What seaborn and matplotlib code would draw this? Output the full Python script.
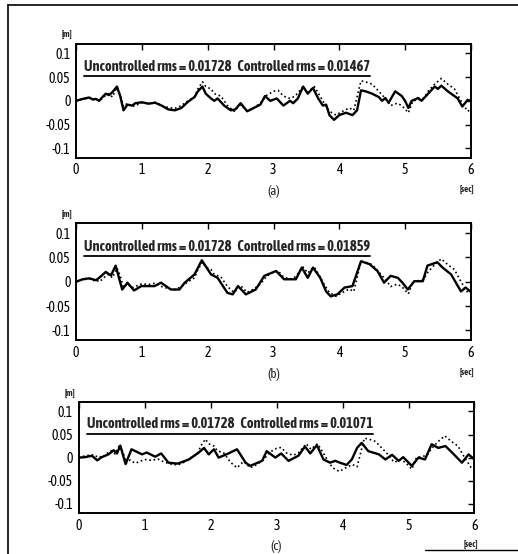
import numpy as np
import pandas as pd
import matplotlib.pyplot as plt
from matplotlib import font_manager
from matplotlib.lines import Line2D
import seaborn as sns

# uncontrolled response (dotted) - same record in all three panels
t_unc = [0, 0.1, 0.2, 0.25, 0.3, 0.35, 0.4, 0.45, 0.5, 0.55, 0.62, 0.67, 0.72, 0.78,
         0.85, 0.9, 1.0, 1.1, 1.2, 1.3, 1.4, 1.5, 1.6, 1.7, 1.8, 1.85, 1.92, 1.97,
         2.05, 2.1, 2.2, 2.3, 2.4, 2.5, 2.6, 2.7, 2.8, 2.9, 3.0, 3.07, 3.15, 3.25,
         3.33, 3.45, 3.52, 3.62, 3.7, 3.78, 3.85, 3.95, 4.05, 4.15, 4.22, 4.33,
         4.4, 4.5, 4.6, 4.7, 4.78, 4.88, 4.95, 5.05, 5.12, 5.2, 5.28, 5.35, 5.45,
         5.55, 5.65, 5.75, 5.85, 5.95, 6.0]
y_unc = [0.0, 0.004, 0.006, 0.002, 0.004, 0.0, 0.005, 0.012, 0.015, 0.008, 0.028,
         0.012, -0.012, -0.005, -0.012, -0.01, -0.004, -0.006, -0.003, -0.01,
         -0.014, -0.016, -0.01, 0.0, 0.008, 0.025, 0.04, 0.03, 0.025, 0.015, 0.01,
         -0.01, -0.022, -0.008, -0.022, -0.015, -0.005, 0.012, 0.02, 0.022, 0.01,
         0.005, 0.01, 0.03, 0.018, 0.03, 0.012, -0.008, -0.022, -0.03, -0.022,
         -0.015, -0.02, 0.042, 0.04, 0.035, 0.02, 0.005, -0.01, -0.005, -0.01,
         -0.025, 0.0, 0.002, 0.005, 0.02, 0.035, 0.047, 0.035, 0.025, 0.0, -0.022,
         -0.018]

# controlled response (solid), panel (a)
t_a = [0, 0.1, 0.2, 0.25, 0.3, 0.35, 0.4, 0.45, 0.5, 0.55, 0.62, 0.67, 0.72, 0.78,
       0.85, 0.9, 1.0, 1.1, 1.2, 1.3, 1.4, 1.5, 1.6, 1.7, 1.8, 1.85, 1.92, 1.97,
       2.05, 2.1, 2.15, 2.25, 2.35, 2.42, 2.5, 2.6, 2.7, 2.8, 2.87, 2.95, 3.05,
       3.15, 3.25, 3.3, 3.37, 3.45, 3.52, 3.6, 3.68, 3.75, 3.8, 3.85, 3.92, 4.0,
       4.1, 4.2, 4.27, 4.33, 4.4, 4.5, 4.6, 4.65, 4.7, 4.75, 4.85, 4.95, 5.0,
       5.05, 5.1, 5.2, 5.25, 5.35, 5.45, 5.5, 5.55, 5.65, 5.7, 5.8, 5.87, 5.95, 6.0]
y_a = [0.0, 0.004, 0.007, 0.003, 0.004, 0.0, 0.008, 0.015, 0.012, 0.018, 0.03, 0.01,
       -0.02, -0.008, -0.01, -0.005, -0.003, -0.006, -0.004, -0.01, -0.018, -0.02,
       -0.015, -0.002, 0.008, 0.02, 0.03, 0.015, 0.005, 0.0, 0.005, -0.01, -0.02,
       -0.018, -0.005, -0.022, -0.015, -0.008, 0.01, 0.0, 0.005, -0.01, 0.0,
       -0.005, 0.005, 0.03, 0.015, 0.027, 0.005, -0.01, -0.008, -0.03, -0.04,
       -0.03, -0.025, -0.03, -0.02, 0.022, 0.02, 0.015, 0.008, 0.0, 0.006,
       -0.004, 0.02, 0.01, 0.0, -0.015, 0.0, 0.006, 0.0, 0.015, 0.03, 0.025,
       0.032, 0.02, 0.015, 0.005, -0.012, 0.002, 0.0]

# controlled response (solid), panel (b)
t_b = [0, 0.1, 0.2, 0.3, 0.35, 0.45, 0.53, 0.6, 0.7, 0.78, 0.88, 0.99, 1.19, 1.29,
       1.44, 1.57, 1.65, 1.8, 1.91, 2.05, 2.15, 2.3, 2.38, 2.46, 2.58, 2.73, 2.86,
       3.04, 3.16, 3.34, 3.43, 3.52, 3.6, 3.71, 3.8, 3.87, 3.97, 4.08, 4.2, 4.33,
       4.46, 4.58, 4.68, 4.78, 4.89, 4.96, 5.04, 5.14, 5.27, 5.34, 5.49, 5.57,
       5.7, 5.85, 5.92, 6.0]
y_b = [0.0, 0.005, 0.007, 0.003, 0.008, 0.02, 0.013, 0.033, -0.016, -0.002, -0.018,
       -0.009, -0.009, -0.002, -0.016, -0.016, -0.002, 0.015, 0.044, 0.015, 0.008,
       -0.023, -0.026, -0.009, -0.026, -0.016, 0.012, 0.022, 0.005, 0.005, 0.029,
       0.008, 0.029, 0.008, -0.02, -0.03, -0.026, -0.012, -0.009, 0.042, 0.036,
       0.022, -0.002, 0.012, 0.008, -0.002, -0.016, 0.001, 0.001, 0.033, 0.04,
       0.029, 0.015, -0.02, -0.012, -0.021]

# controlled response (solid), panel (c)
t_c = [0, 0.1, 0.2, 0.28, 0.35, 0.45, 0.53, 0.58, 0.63, 0.71, 0.8, 0.96, 1.03, 1.16,
       1.25, 1.36, 1.5, 1.67, 1.82, 1.9, 1.97, 2.05, 2.12, 2.27, 2.4, 2.53, 2.6,
       2.78, 2.85, 2.98, 3.07, 3.18, 3.33, 3.43, 3.51, 3.61, 3.71, 3.81, 3.89,
       3.96, 4.06, 4.14, 4.22, 4.29, 4.39, 4.55, 4.65, 4.75, 4.85, 4.92, 5.05,
       5.15, 5.25, 5.35, 5.45, 5.56, 5.66, 5.81, 5.91, 6.0]
y_c = [0.0, 0.001, 0.004, -0.006, 0.001, 0.007, 0.016, 0.009, 0.026, -0.014, 0.018,
       0.007, 0.011, 0.002, 0.009, -0.011, -0.013, -0.004, 0.011, 0.021, 0.007,
       0.018, 0.0, 0.009, 0.018, -0.011, -0.018, -0.007, 0.014, 0.0, 0.009,
       -0.007, 0.004, 0.024, 0.009, 0.027, -0.004, -0.011, -0.007, -0.011,
       -0.016, -0.004, 0.021, 0.032, 0.014, 0.007, -0.004, 0.006, -0.007, 0.001,
       -0.018, 0.0, -0.004, 0.029, 0.021, 0.025, 0.011, -0.011, 0.007, -0.004]

rms_unc = '0.01728'
rms_ctrl = ['0.01467', '0.01859', '0.01071']
panel_labels = ['(a)', '(b)', '(c)']
x_ticks = [0, 1, 2, 3, 4, 5, 6]
y_ticks = [-0.1, -0.05, 0, 0.05, 0.1]
y_ticklabels = ['-0.1', '-0.05', '0', '0.05', '0.1']


def wnum(w):
    if isinstance(w, int):
        return w
    return {'bold': 700, 'semibold': 600, 'demibold': 600, 'heavy': 800,
            'black': 900}.get(str(w).lower(), 400)


# a narrow upright face (the original uses a condensed Helvetica-like font)
fonts = {}
for f in font_manager.fontManager.ttflist:
    if ('Narrow' in f.name or 'Condensed' in f.name) and f.style == 'normal':
        fonts.setdefault(f.name, []).append(f)
reg_file, bold_file = None, None
for name in sorted(fonts):
    regs = [f for f in fonts[name] if wnum(f.weight) == 400]
    bolds = [f for f in fonts[name] if wnum(f.weight) == 700]
    if regs and bolds:
        reg_file, bold_file = regs[0].fname, bolds[0].fname
        break
if reg_file is None:
    for name in sorted(fonts):
        regs = [f for f in fonts[name] if wnum(f.weight) == 400]
        if regs:
            reg_file = regs[0].fname
            break

sns.set_style('white')
plt.rcParams['xtick.direction'] = 'in'
plt.rcParams['ytick.direction'] = 'in'

if reg_file:
    reg_prop = font_manager.FontProperties(fname=reg_file)
    base = 9.5
else:
    reg_prop = font_manager.FontProperties(family='Liberation Sans')
    base = 8.2
if bold_file:
    bold_prop = font_manager.FontProperties(fname=bold_file)
    bsize = 10.4
elif reg_file:
    bold_prop = font_manager.FontProperties(fname=reg_file)
    bsize = 10.3
else:
    bold_prop = font_manager.FontProperties(family='Liberation Sans', weight='bold')
    bsize = 8.5

fig = plt.figure(figsize=(5.18, 5.54), dpi=100)

# axes boxes (left, bottom, width, height) in figure fractions
boxes = [[0.147, 0.715, 0.762, 0.206],
         [0.147, 0.386, 0.762, 0.211],
         [0.152, 0.074, 0.764, 0.200]]
ctrl = [(t_a, y_a), (t_b, y_b), (t_c, y_c)]

unc_df = pd.DataFrame({'t': t_unc, 'y': y_unc})

for i in range(3):
    ax = fig.add_axes(boxes[i])
    sns.lineplot(data=unc_df, x='t', y='y', ax=ax, color='black', lw=1.2,
                 linestyle=':', estimator=None, sort=False)
    df = pd.DataFrame({'t': ctrl[i][0], 'y': ctrl[i][1]})
    sns.lineplot(data=df, x='t', y='y', ax=ax, color='black', lw=1.7,
                 estimator=None, sort=False)
    ax.set_xlim(0, 6)
    ax.set_ylim(-0.12, 0.12)
    ax.set_xticks(x_ticks)
    ax.set_yticks(y_ticks)
    ax.set_yticklabels(y_ticklabels)
    ax.set_xlabel('')
    ax.set_ylabel('')
    ax.tick_params(top=True, right=True, length=4, width=1, pad=4, colors='black')
    for lab in ax.get_xticklabels() + ax.get_yticklabels():
        lab.set_fontproperties(reg_prop)
        lab.set_fontsize(base + 0.5)
    for s in ax.spines.values():
        s.set_color('black')
        s.set_linewidth(1.4)
    ax.text(-0.01, 1.04, '[m]', transform=ax.transAxes, fontproperties=bold_prop,
            fontsize=base - 3, ha='right', va='bottom')
    ax.text(0.5, -0.24, panel_labels[i], transform=ax.transAxes,
            fontproperties=reg_prop, fontsize=base, ha='center', va='top')
    ax.text(0.99, -0.24, '[sec]', transform=ax.transAxes, fontproperties=bold_prop,
            fontsize=base - 3, ha='center', va='top')
    txt = ax.text(0.02, 0.8, 'Uncontrolled rms = ' + rms_unc + '   Controlled rms = ' + rms_ctrl[i],
                  transform=ax.transAxes, fontproperties=bold_prop, fontsize=bsize,
                  ha='left', va='center')
    fig.canvas.draw()
    bb = txt.get_window_extent().transformed(ax.transAxes.inverted())
    ax.plot([bb.x0, bb.x1], [bb.y0 - 0.02, bb.y0 - 0.02], transform=ax.transAxes,
            color='black', lw=1.3, clip_on=False)

# scanned page border
fig.add_artist(Line2D([8 / 518, 8 / 518], [0, 1 - 5 / 554], color='black', lw=1.2))
fig.add_artist(Line2D([8 / 518, 1], [1 - 5 / 554, 1 - 5 / 554], color='black', lw=1.2))
fig.add_artist(Line2D([425 / 518, 1], [1 - 550 / 554, 1 - 550 / 554], color='black', lw=1.0))

fig.savefig('out.png', dpi=100)
